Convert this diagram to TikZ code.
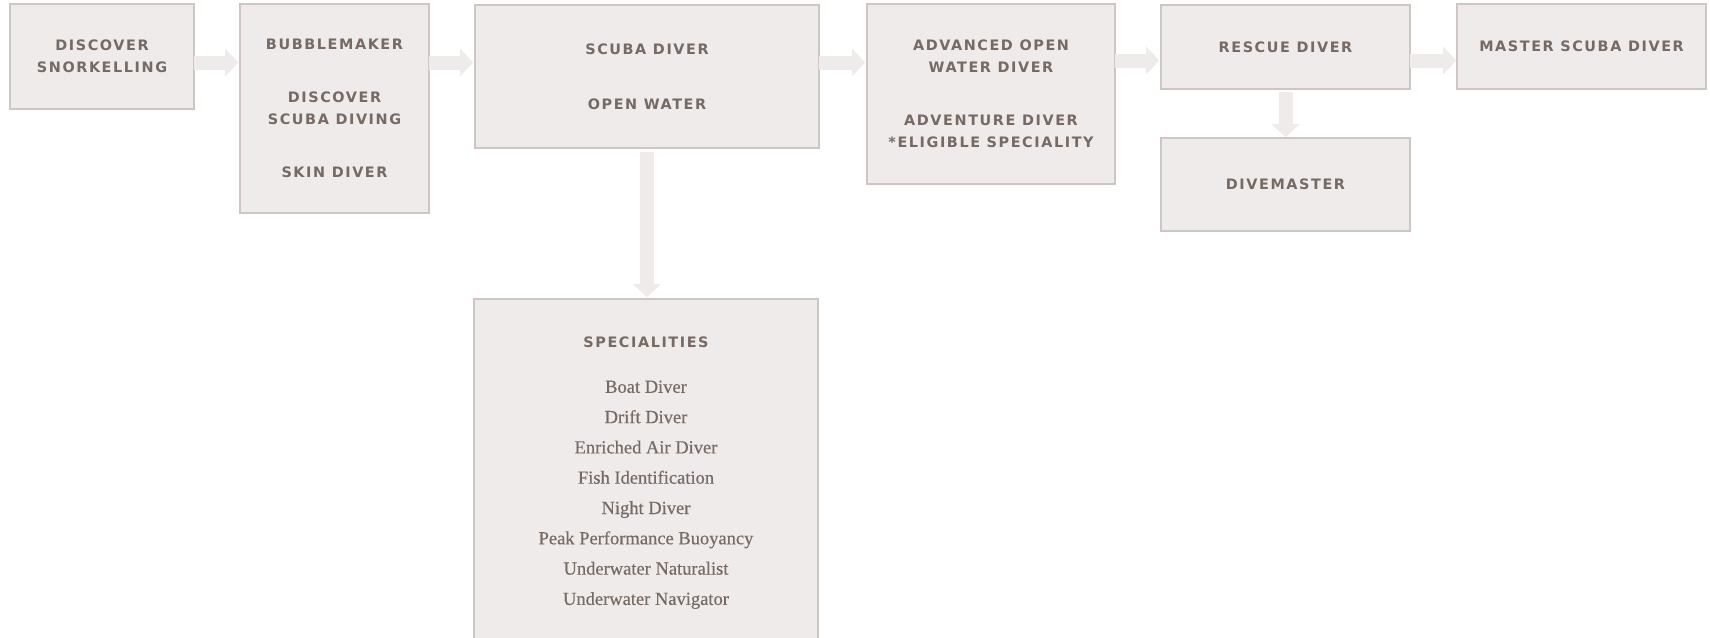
\documentclass[tikz,border=0pt]{standalone}
\usepackage{fontspec}
\setmainfont{Liberation Serif}[FakeBold=0.35]
\newfontfamily\capsfont[LetterSpace=11]{DejaVu Sans}
\usetikzlibrary{arrows.meta}

\definecolor{boxfill}{HTML}{EFEBEA}
\definecolor{boxline}{HTML}{CFC6C3}
\definecolor{arrowfill}{HTML}{EEEBEA}
\definecolor{inktext}{HTML}{766A64}

\begin{document}
\begin{tikzpicture}[x=1pt,y=-1pt,
  course/.style={draw=boxline, fill=boxfill, line width=1.6pt, inner sep=0pt, outer sep=0pt,
    text=inktext, align=center, font=\capsfont\bfseries\fontsize{14.4}{22}\selectfont},
  flowarrow/.style={draw=arrowfill, line width=14pt,
    -{Triangle[width=28pt,length=13pt,line width=0.1pt]}}]

  \useasboundingbox (0,0) rectangle (1710,637);

  % Rows for the arrows
  \coordinate (row1) at (0,62.5);
  \coordinate (row2) at (0,60.5);

  % Top row
  \node[course, minimum width=184pt, minimum height=105pt] (snorkel) at (102,56.5) {DISCOVER\\SNORKELLING};
  \node[course, minimum width=189pt, minimum height=209pt] (bubble) at (334.5,108.5)
    {BUBBLEMAKER\\[31pt]DISCOVER\\SCUBA DIVING\\[31pt]SKIN DIVER};
  \node[course, minimum width=344pt, minimum height=143pt] (scuba) at (647,76.5)
    {SCUBA DIVER\\[33pt]OPEN WATER};
  \node[course, minimum width=248pt, minimum height=180pt] (advanced) at (991,94)
    {ADVANCED OPEN\\WATER DIVER\\[31pt]ADVENTURE DIVER\\*ELIGIBLE SPECIALITY};
  \node[course, minimum width=249pt, minimum height=84pt] (rescue) at (1285.5,47) {RESCUE DIVER};
  \node[course, minimum width=249pt, minimum height=85pt] (master) at (1581.5,46.5) {MASTER SCUBA DIVER};

  % Below
  \node[course, minimum width=249pt, minimum height=93pt] (divemaster) at (1285.5,184.5) {DIVEMASTER};
  \node[course, minimum width=344pt, minimum height=348pt, font=\fontsize{18.5}{30.3}\selectfont] (special) at (646,473)
    {{\capsfont\bfseries\fontsize{14.4}{22}\selectfont SPECIALITIES}\\[14.7pt]
     Boat Diver\\ Drift Diver\\ Enriched Air Diver\\ Fish Identification\\ Night Diver\\
     Peak Performance Buoyancy\\ Underwater Naturalist\\ Underwater Navigator};

  % Arrows
  \draw[flowarrow, shorten >=2pt] (snorkel.east |- row1) -- (bubble.west |- row1);
  \draw[flowarrow, shorten >=2pt] (bubble.east |- row1) -- (scuba.west |- row1);
  \draw[flowarrow, shorten >=2pt] (scuba.east |- row1) -- (advanced.west |- row1);
  \draw[flowarrow, shorten >=2pt] (advanced.east |- row2) -- (rescue.west |- row2);
  \draw[flowarrow, shorten >=1pt] (rescue.east |- row2) -- (master.west |- row2);
  \draw[flowarrow, shorten <=3pt, shorten >=1pt] (rescue) -- (divemaster);
  \draw[flowarrow, shorten <=4pt, shorten >=2pt] (scuba.south) -- (scuba.south |- special.north);

\end{tikzpicture}
\end{document}
